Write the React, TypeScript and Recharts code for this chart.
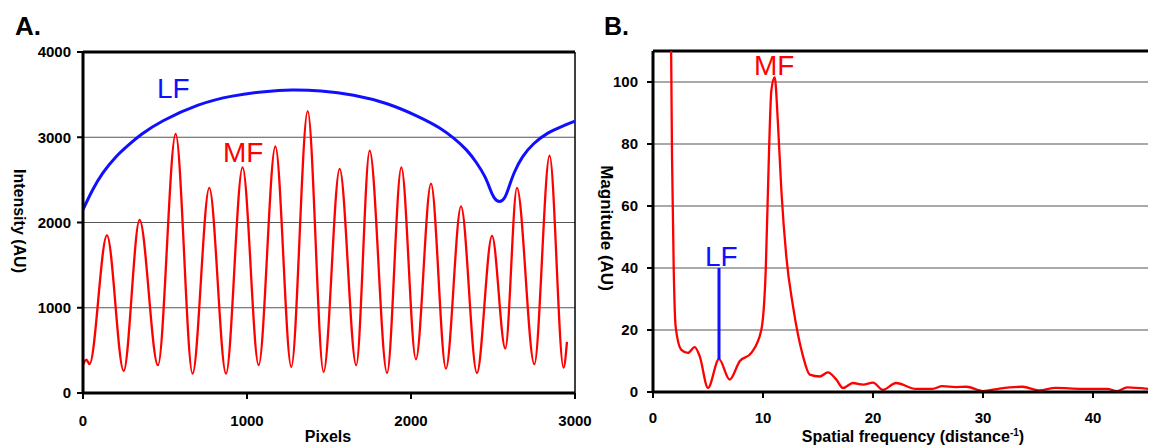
import React from 'react';
import { LineChart, Line, XAxis, YAxis, CartesianGrid, ReferenceLine } from 'recharts';

// Panel A: intensity profile along the image (pixels)
const mfPixels = [0, 20, 40, 146, 248, 345, 457, 565, 668, 770, 872, 973, 1071, 1173, 1270, 1370, 1467, 1565, 1666, 1748, 1854, 1941, 2030, 2122, 2213, 2305, 2402, 2494, 2575, 2646, 2752, 2845, 2930, 2951];
const mfIntensity = [330, 390, 340, 1850, 259, 2030, 326, 3040, 228, 2405, 228, 2647, 326, 2894, 306, 3306, 247, 2628, 326, 2843, 235, 2647, 396, 2455, 287, 2188, 235, 1843, 522, 2405, 338, 2784, 298, 600];

const lfPixels = [0, 57, 118, 199, 280, 351, 473, 707, 910, 1113, 1270, 1447, 1650, 1854, 2057, 2179, 2260, 2341, 2402, 2453, 2484, 2504, 2540, 2575, 2595, 2626, 2677, 2748, 2829, 2930, 3000];
const lfIntensity = [2150, 2385, 2581, 2776, 2914, 3032, 3188, 3395, 3490, 3540, 3560, 3549, 3502, 3405, 3235, 3110, 2993, 2855, 2698, 2541, 2382, 2287, 2225, 2287, 2404, 2581, 2776, 2933, 3051, 3137, 3188];

const pixelTicks = [0, 1000, 2000, 3000];
const intensityTicks = [0, 1000, 2000, 3000, 4000];

// Panel B: magnitude spectrum
const freq = [1.6, 1.73, 1.88, 2.06, 2.58, 3.18, 3.79, 4.25, 5.0, 6.0, 6.97, 7.88, 8.94, 9.85, 10.25, 10.55, 10.76, 11.06, 11.36, 11.67, 12.12, 12.73, 13.64, 14.25, 15.15, 15.9, 16.67, 17.27, 18.18, 19.1, 20.0, 20.9, 22.1, 23.9, 25.4, 26.3, 27.5, 28.5, 30.0, 31.5, 33.6, 35.1, 36.6, 39.0, 41.3, 42.2, 43.1, 45];
const magnitude = [130, 75.9, 40.4, 21.1, 13.6, 12.6, 14.5, 11.5, 1.3, 10.6, 4.0, 9.9, 12.6, 20.1, 39.4, 78, 97.3, 101.6, 86.6, 65, 43.7, 27.6, 11.5, 5.6, 5.0, 6.3, 4.0, 1.3, 2.9, 2.4, 3.0, 0.7, 2.9, 1.0, 1.0, 1.9, 1.6, 1.7, 0.3, 1.1, 1.7, 0.5, 1.3, 1.0, 1.0, 0.3, 1.5, 1.0];

const lfMarkFreq = [6, 6];
const lfMarkMag = [10.5, 40];

const freqTicks = [0, 10, 20, 30, 40];
const magTicks = [0, 20, 40, 60, 80, 100];

const zip = (xs: number[], ys: number[]) => xs.map((x, i) => ({ x, y: ys[i] }));

const mfData = zip(mfPixels, mfIntensity);
const lfData = zip(lfPixels, lfIntensity);
const spectrumData = zip(freq, magnitude);
const lfMarkData = zip(lfMarkFreq, lfMarkMag);

const FONT = '"Liberation Sans", Arial, sans-serif';
const tickStyle = { fill: '#000', fontSize: 15, fontWeight: 'bold' as const, fontFamily: FONT };
const axisLine = { stroke: '#000', strokeWidth: 3 };
const tickLine = { stroke: '#000', strokeWidth: 2 };

export default function App() {
  return (
    <div style={{ position: 'absolute', left: 0, top: 0, width: 1150, height: 447, background: '#fff', overflow: 'hidden' }}>
      <div style={{ position: 'absolute', left: 0, top: 0 }}>
        <LineChart width={600} height={447} margin={{ top: 52, right: 25, bottom: 24, left: 23 }}>
          <CartesianGrid vertical={false} stroke="#555" />
          <XAxis
            type="number"
            dataKey="x"
            domain={[0, 3000]}
            ticks={pixelTicks}
            allowDataOverflow
            height={30}
            tick={tickStyle}
            tickSize={6}
            tickMargin={16}
            axisLine={axisLine}
            tickLine={tickLine}
          />
          <YAxis
            type="number"
            domain={[0, 4000]}
            ticks={intensityTicks}
            allowDataOverflow
            width={60}
            tick={tickStyle}
            tickSize={6}
            tickMargin={6}
            axisLine={axisLine}
            tickLine={tickLine}
          />
          <ReferenceLine y={4000} stroke="#000" strokeWidth={3} />
          <ReferenceLine x={3000} stroke="#000" strokeWidth={1.5} />
          <Line data={lfData} dataKey="y" type="basis" stroke="#1010ff" strokeWidth={3} dot={false} isAnimationActive={false} />
          <Line data={mfData} dataKey="y" type="monotone" stroke="#ff0000" strokeWidth={2.3} dot={false} isAnimationActive={false} />
        </LineChart>
      </div>

      <div style={{ position: 'absolute', left: 600, top: 0 }}>
        <LineChart width={550} height={447} margin={{ top: 51, right: 2, bottom: 25, left: 8 }}>
          <CartesianGrid vertical={false} stroke="#555" />
          <XAxis
            type="number"
            dataKey="x"
            domain={[0, 45]}
            ticks={freqTicks}
            allowDataOverflow
            height={30}
            tick={tickStyle}
            tickSize={6}
            tickMargin={14}
            axisLine={axisLine}
            tickLine={tickLine}
          />
          <YAxis
            type="number"
            domain={[0, 110]}
            ticks={magTicks}
            allowDataOverflow
            width={45}
            tick={tickStyle}
            tickSize={6}
            tickMargin={9}
            axisLine={axisLine}
            tickLine={tickLine}
          />
          <ReferenceLine y={110} stroke="#000" strokeWidth={3} />
          <Line data={spectrumData} dataKey="y" type="monotone" stroke="#ff0000" strokeWidth={2.3} dot={false} isAnimationActive={false} />
          <Line data={lfMarkData} dataKey="y" type="linear" stroke="#1010ff" strokeWidth={3} dot={false} isAnimationActive={false} />
        </LineChart>
      </div>

      <svg width={1150} height={447} style={{ position: 'absolute', left: 0, top: 0, pointerEvents: 'none' }} fontFamily={FONT}>
        <text x={15} y={35} fontSize={26} fontWeight={900}>A.</text>
        <text x={604} y={35} fontSize={25} fontWeight={900}>B.</text>

        <text x={157} y={98} fontSize={28} fill="#1010ff">LF</text>
        <text x={223} y={162} fontSize={28} fill="#ff0000">MF</text>
        <text x={754} y={75} fontSize={28} fill="#ff0000">MF</text>
        <text x={705} y={266} fontSize={28} fill="#1010ff">LF</text>

        <text x={328} y={442} fontSize={16} fontWeight="bold" textAnchor="middle">Pixels</text>
        <text x={913} y={442} fontSize={16} fontWeight="bold" textAnchor="middle">
          Spatial frequency (distance<tspan fontSize={10} dy={-6}>-1</tspan><tspan dy={6}>)</tspan>
        </text>
        <text x={14} y={221} fontSize={16} fontWeight="bold" textAnchor="middle" transform="rotate(90 14 221)">Intensity (AU)</text>
        <text x={601} y={228} fontSize={17} fontWeight="bold" textAnchor="middle" transform="rotate(90 601 228)">Magnitude (AU)</text>
      </svg>
    </div>
  );
}
